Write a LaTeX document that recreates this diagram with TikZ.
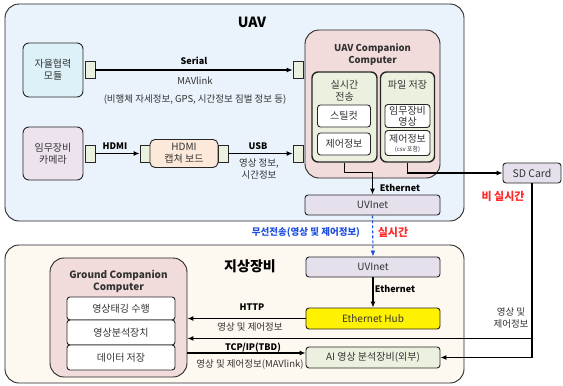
\documentclass[tikz,border=0pt]{standalone}
\usepackage{fontspec}
\setmainfont{Noto Sans CJK KR}
\usetikzlibrary{arrows.meta,calc}
\definecolor{uavbg}{HTML}{EAF2FB}
\definecolor{gndbg}{HTML}{FDF8F0}
\definecolor{cyanbox}{HTML}{DDF2F8}
\definecolor{lilac}{HTML}{EDE3EE}
\definecolor{peach}{HTML}{FDE9D9}
\definecolor{pinkbox}{HTML}{F2DCDB}
\definecolor{sage}{HTML}{EBF1DE}
\definecolor{lav}{HTML}{E6E0EC}
\definecolor{portc}{HTML}{EBF1DE}
\definecolor{wblue}{HTML}{1F4FE0}
\definecolor{wred}{HTML}{FF2A2A}
\definecolor{edge}{HTML}{262626}
\definecolor{txt}{HTML}{333333}
\tikzset{
  region/.style={draw=edge, line width=0.9pt, rounded corners=14pt},
  boxtext/.style={align=center, font=\fontsize{10}{12}\selectfont, text=txt, inner sep=1pt},
  box/.style={boxtext, draw=edge, line width=0.9pt, rounded corners=3pt},
  port/.style={draw=edge, line width=0.8pt, fill=portc, minimum width=10pt, minimum height=17pt, inner sep=0pt},
  conn/.style={line width=1.1pt, -{Latex[length=6pt,width=5pt]}},
  lbl/.style={font=\fontsize{9.5}{12}\selectfont, text=txt, align=center, inner sep=0pt},
  blbl/.style={font=\fontsize{9}{11}\selectfont\bfseries, inner sep=0pt},
  ctitle/.style={font=\fontsize{9.5}{11.5}\selectfont\bfseries, text=txt, align=center, inner sep=0pt}
}
\begin{document}
\begin{tikzpicture}[x=1pt,y=-1pt]
\useasboundingbox (0,0) rectangle (563,386);

% regions
\node[region, fill=uavbg, minimum width=459pt, minimum height=217pt] (uav) at (234.5,112.5) {};
\node[region, fill=gndbg, minimum width=459pt, minimum height=138pt] (gnd) at (234.5,314) {};
\node[font=\fontsize{14}{16}\selectfont\bfseries] (uavt) at (252,22) {UAV};
\node[font=\fontsize{14}{16}\selectfont\bfseries] (gndt) at (250,266) {지상장비};

% UAV side
\node[box, fill=cyanbox, minimum width=60pt, minimum height=54pt, rounded corners=6pt] (auto) at (53,70) {자율협력\\모듈};
\node[port] (p1) at (90,70) {};
\node[box, fill=lilac, minimum width=60pt, minimum height=53pt, rounded corners=6pt] (cam) at (53,153.5) {임무장비\\카메라};
\node[port] (p2) at (90,153.5) {};
\node[port] (cp1) at (145,153.5) {};
\node[box, fill=peach, minimum width=68pt, minimum height=28pt, rounded corners=5pt] (cap) at (184,153.5) {HDMI\\캡쳐 보드};
\node[port] (cp2) at (223,153.5) {};

\node[region, fill=pinkbox, minimum width=135pt, minimum height=148pt] (ucc) at (372.5,104) {};
\node[ctitle] (ucct) at (372.5,54.5) {UAV Companion\\Computer};
\node[port] (sp) at (298,70) {};
\node[port] (up) at (298,153.5) {};
\node[box, fill=sage, line width=1.4pt, rounded corners=6pt, minimum width=65pt, minimum height=90pt] (rt) at (344.5,117) {};
\node[boxtext] (rtt) at (344.5,91) {실시간\\전송};
\node[box, fill=white, minimum width=53pt, minimum height=22pt] (still) at (344,116) {스틸컷};
\node[box, fill=white, minimum width=53pt, minimum height=22pt] (ctl1) at (344,144) {제어정보};
\node[box, fill=sage, line width=1.4pt, rounded corners=6pt, minimum width=54pt, minimum height=90pt] (fs) at (407.5,117) {};
\node[boxtext] (fst) at (407.5,85) {파일 저장};
\node[box, fill=white, minimum width=45pt, minimum height=23pt] (mis) at (407.5,116) {임무장비\\[-1pt]영상};
\node[box, fill=white, minimum width=45pt, minimum height=25pt] (ctl2) at (407.5,143) {제어정보\\[-3pt]{\fontsize{6}{7}\selectfont (csv 포함)}};

\node[box, fill=lav, minimum width=135pt, minimum height=20pt] (uv1) at (372.5,205) {UVInet};
\node[box, fill=lav, minimum width=58pt, minimum height=20pt, font=\fontsize{10.5}{12}\selectfont] (sd) at (532,173) {SD Card};

% ground side
\node[box, fill=lav, minimum width=134pt, minimum height=20pt] (uv2) at (373,267) {UVInet};
\node[box, fill=yellow, minimum width=134pt, minimum height=21pt] (hub) at (373,318.5) {Ethernet Hub};
\node[box, fill=sage, minimum width=134pt, minimum height=21pt] (ai) at (373,357.5) {AI 영상 분석장비(외부)};

\node[region, fill=pinkbox, minimum width=137pt, minimum height=119pt] (gcc) at (118.5,317.5) {};
\node[ctitle, font=\fontsize{10}{12}\selectfont\bfseries] (gcct) at (118.5,281) {Ground Companion\\Computer};
\node[box, fill=white, minimum width=108pt, minimum height=23pt] (g1) at (121,308.5) {영상태깅 수행};
\node[box, fill=white, minimum width=108pt, minimum height=25pt] (g2) at (121,332.5) {영상분석장치};
\node[box, fill=white, minimum width=108pt, minimum height=25pt] (g3) at (121,357.5) {데이터 저장};

% connectors inside the UAV
\draw[conn] (p1) -- (sp);
\draw[conn] (p2) -- (cp1);
\draw[conn] (cp2) -- (up);
\draw[conn] (rt.south) -- ++(0,10) -| (uv1.north);
\draw[conn] (fs.south) |- (sd.west);

% wireless link
\draw[conn, wblue, dash pattern=on 3pt off 2pt] (uv1.south) -- (uv2.north);

% ground links
\draw[conn] (uv2.south) -- (hub.north);
\draw[conn] (hub.west) -- (hub.west -| gcc.east);
\path (ai.west) ++(0,-4.5) coordinate (aiin);
\draw[conn] (aiin -| gcc.east) -- (aiin);
\draw[conn] (sd.south) |- (ai.east);
\path (sd.south) ++(0,155) coordinate (junc);
\draw[conn] (junc) -- (junc -| gcc.east);

% labels
\node[blbl] (lserial) at (194,61) {Serial};
\node[lbl] (lmav) at (195,81) {MAVlink};
\node[lbl] (linfo) at (195,99) {(비행체 자세정보, GPS, 시간정보 짐벌 정보 등)};
\node[blbl] (lhdmi) at (115,146) {HDMI};
\node[blbl] (lusb) at (258,146) {USB};
\node[lbl] (lvid) at (259,169) {영상 정보,\\시간정보};
\node[blbl] (leth1) at (400,188) {Ethernet};
\node[blbl] (leth2) at (395,289) {Ethernet};
\node[font=\fontsize{9.5}{11}\selectfont\bfseries, text=wblue, inner sep=0pt] (lwl) at (306,232) {무선전송(영상 및 제어정보)};
\node[font=\fontsize{11}{13}\selectfont\bfseries, text=wred, inner sep=0pt] (lrt) at (393,232) {실시간};
\node[font=\fontsize{11}{13}\selectfont\bfseries, text=wred, inner sep=0pt] (lnrt) at (503,196) {비 실시간};
\node[blbl] (lhttp) at (252,307) {HTTP};
\node[lbl] (lhttpd) at (250,327) {영상 및 제어정보};
\node[blbl] (ltcp) at (253,348) {TCP/IP(TBD)};
\node[lbl] (ltcpd) at (250,364) {영상 및 제어정보(MAVlink)};
\node[lbl] (lsdd) at (511,318) {영상 및\\제어정보};
\end{tikzpicture}
\end{document}
